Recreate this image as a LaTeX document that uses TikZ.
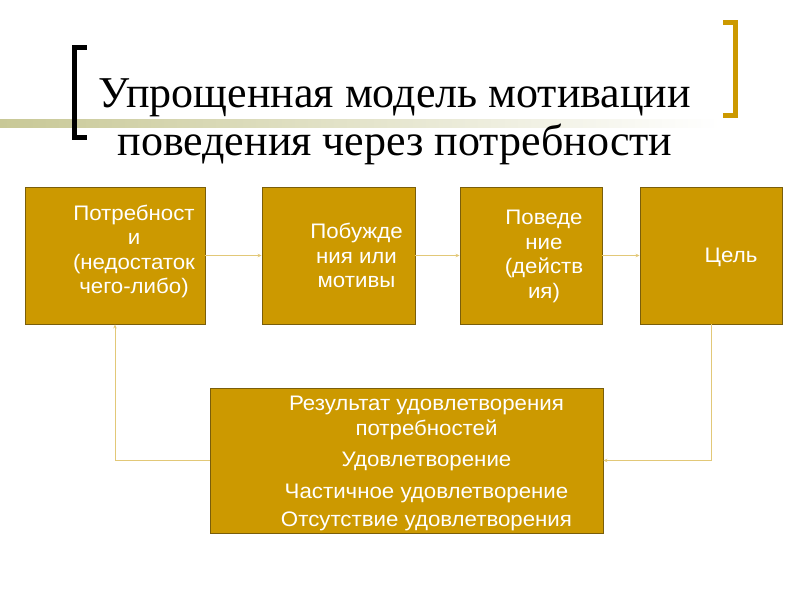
\documentclass[tikz,border=0pt]{standalone}
\usepackage{fontspec}
\setmainfont{Liberation Serif}
\setsansfont{Liberation Sans}[FakeStretch=1.06]
\usetikzlibrary{arrows.meta}
\definecolor{goldfill}{RGB}{204,153,0}
\definecolor{goldline}{RGB}{122,94,10}
\definecolor{linkline}{RGB}{226,200,120}
\definecolor{barolive}{RGB}{200,200,150}
\tikzset{
  stage/.style={draw=goldline, fill=goldfill, line width=0.9pt, minimum height=137pt, inner sep=0pt},
  stagetext/.style={text=white, font=\sffamily\fontsize{21}{24.5}\selectfont, align=center},
  link/.style={draw=linkline, line width=1pt, -{Stealth[length=4pt,width=3.5pt]}}
}
\begin{document}
\begin{tikzpicture}[x=1pt,y=-1pt]
            \useasboundingbox (0,0) rectangle (800,600);
            % Title bar and brackets
            \shade[left color=barolive, right color=white] (0,119) rectangle (720,127);
            \fill[black] (72,45) rectangle (77,140);
            \fill[black] (72,45) rectangle (87,50);
            \fill[black] (72,135) rectangle (87,140);
            \fill[goldfill] (733,20) rectangle (738,118);
            \fill[goldfill] (723,20) rectangle (738,25);
            \fill[goldfill] (723,113) rectangle (738,118);
            \node[font=\fontsize{44}{48}\selectfont, align=center] (title) at (395,122)
                {Упрощенная модель мотивации\\поведения через потребности};

            % Top row
            \node[stage, minimum width=180pt] (need) at (115,255.5)
                [label={[stagetext, xshift=19pt, yshift=4pt]center:{Потребност\\и\\(недостаток\\чего-либо)}}] {};
            \node[stage, minimum width=153pt] (motive) at (338.5,255.5)
                [label={[stagetext, xshift=18pt]center:{Побужде\\ния или\\мотивы}}] {};
            \node[stage, minimum width=142pt] (action) at (531,255.5)
                [label={[stagetext, xshift=13pt, yshift=-1pt]center:{Поведе\\ние\\(действ\\ия)}}] {};
            \node[stage, minimum width=142pt] (goal) at (711,255.5)
                [label={[stagetext, xshift=20pt, yshift=-2pt]center:{Цель}}] {};

            % Result
            \node[stage, minimum width=393pt, minimum height=145pt] (result) at (406.5,460.5)
                [label={[stagetext, xshift=20pt, yshift=-3pt]center:{Результат удовлетворения\\потребностей\\[7pt]Удовлетворение\\[7pt]Частичное удовлетворение\\[4pt]Отсутствие удовлетворения}}] {};

            % Arrows
            \draw[link] (need) -- (motive);
            \draw[link] (motive) -- (action);
            \draw[link] (action) -- (goal);
            \draw[link] (goal.south) |- (result.east);
            \draw[link] (result.west) -| (need.south);
        \end{tikzpicture}
\end{document}
